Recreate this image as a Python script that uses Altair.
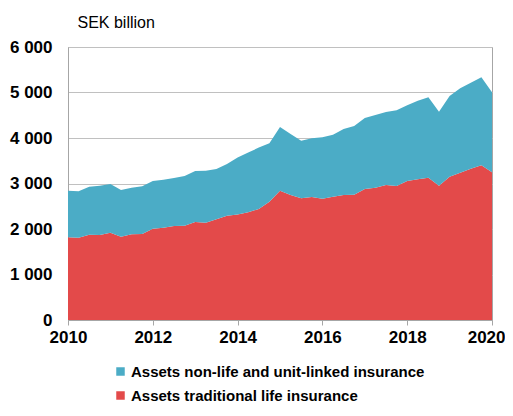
import altair as alt
import pandas as pd

# Quarterly observations 2010Q1 .. 2020Q1 (time as decimal year)
quarters = [2010 + 0.25 * i for i in range(41)]

# SEK billion
traditional_life = [
    1817, 1809, 1875, 1868, 1919, 1831, 1883, 1890,
    2007, 2029, 2066, 2073, 2154, 2139, 2212, 2293,
    2320, 2370, 2440, 2601, 2840, 2747, 2674, 2703,
    2666, 2711, 2747, 2755, 2879, 2908, 2967, 2945,
    3055, 3092, 3128, 2952, 3150, 3238, 3326, 3399,
    3245,
]
nonlife_unit_linked = [
    1025, 1019, 1055, 1084, 1070, 1026, 1025, 1048,
    1048, 1055, 1055, 1092, 1121, 1143, 1107, 1136,
    1250, 1310, 1350, 1282, 1400, 1341, 1267, 1290,
    1349, 1362, 1451, 1509, 1561, 1597, 1604, 1663,
    1663, 1728, 1766, 1627, 1773, 1854, 1890, 1934,
    1759,
]

series_names = [
    "Assets non-life and unit-linked insurance",
    "Assets traditional life insurance",
]
series_colors = ["#4BACC6", "#E34A4A"]
x_ticks = [2010, 2012, 2014, 2016, 2018, 2020]
y_ticks = [0, 1000, 2000, 3000, 4000, 5000, 6000]

rows = []
for t, a, b in zip(quarters, traditional_life, nonlife_unit_linked):
    rows.append({"t": t, "value": a, "series": series_names[1], "ord": 0})
    rows.append({"t": t, "value": b, "series": series_names[0], "ord": 1})
df = pd.DataFrame(rows)

FONT = "Liberation Sans"

chart = (
    alt.Chart(df)
    .mark_area(interpolate="linear")
    .encode(
        x=alt.X(
            "t:Q",
            scale=alt.Scale(domain=[2010, 2020], nice=False, zero=False),
            axis=alt.Axis(
                values=x_ticks,
                format="d",
                title=None,
                grid=False,
                tickSize=5,
                tickColor="#A6A6A6",
                domainColor="#A6A6A6",
                labelFont=FONT,
                labelFontSize=17,
                labelFontWeight="bold",
                labelColor="#000000",
                labelPadding=4,
                labelFlush=False,
                labelAlign={"condition": {"test": "datum.value == 2020", "value": "right"}, "value": "center"},
                labelOffset={"condition": {"test": "datum.value == 2020", "value": 13}, "value": 0},
            ),
        ),
        y=alt.Y(
            "value:Q",
            stack="zero",
            scale=alt.Scale(domain=[0, 6000], nice=False),
            axis=alt.Axis(
                values=y_ticks,
                labelExpr="replace(format(datum.value, ','), ',', ' ')",
                title="SEK billion",
                titleAngle=0,
                titleX=9,
                titleY=-20,
                titleAlign="left",
                titleBaseline="alphabetic",
                titleFont=FONT,
                titleFontSize=16,
                titleFontWeight="normal",
                titleColor="#000000",
                ticks=False,
                grid=True,
                gridColor="#C0C0C0",
                gridWidth=1,
                domainColor="#A6A6A6",
                labelFont=FONT,
                labelFontSize=17,
                labelFontWeight="bold",
                labelColor="#000000",
                labelPadding=16,
            ),
        ),
        color=alt.Color(
            "series:N",
            scale=alt.Scale(domain=series_names, range=series_colors),
            legend=alt.Legend(
                title=None,
                orient="none",
                legendX=45,
                legendY=317,
                direction="vertical",
                symbolType="square",
                symbolSize=72,
                symbolStrokeWidth=0,
                labelFont=FONT,
                labelFontSize=15,
                labelFontWeight="bold",
                labelColor="#000000",
                labelOffset=3,
                labelLimit=500,
                rowPadding=8,
                padding=0,
            ),
        ),
        order=alt.Order("ord:Q", sort="ascending"),
    )
    .properties(
        width=424,
        height=273,
        autosize=alt.AutoSizeParams(type="none"),
        padding={"left": 60, "top": 39, "right": 13, "bottom": 84},
    )
    .configure_view(stroke="#A6A6A6", strokeWidth=1)
)

chart.save("out.html", embed_options={"renderer": "svg", "actions": False})
